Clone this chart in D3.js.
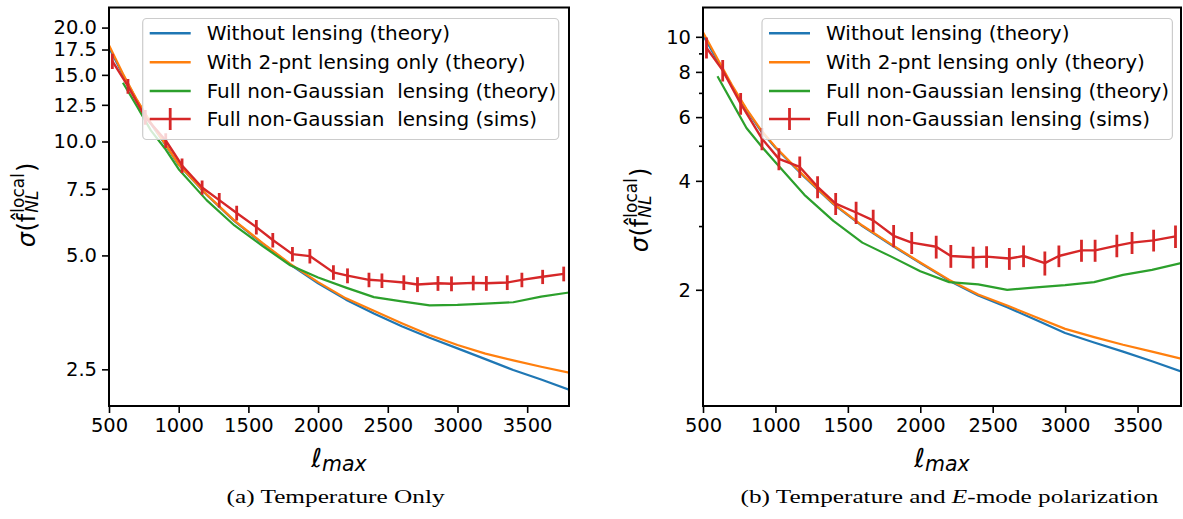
<!DOCTYPE html>
<html><head><meta charset="utf-8">
<script src="https://cdn.jsdelivr.net/npm/d3@7"></script>
<style>body{margin:0;background:#fff}svg{display:block}</style>
</head><body>
<svg id="chart" width="1183" height="519"></svg>
<script>
// ---------------- data ----------------
const lmaxTheory = [500,600,700,800,900,1000,1200,1400,1600,1800,2000,2200,2400,2600,2800,3000,3200,3400,3600,3800];
const lmaxSims = [524,636,760,907,1024,1168,1291,1416,1557,1675,1816,1941,2110,2211,2365,2458,2615,2713,2860,2957,3113,3207,3357,3462,3611,3762];

// (a) Temperature only
const tNoLens  = [17.7,15.0,12.85,11.15,9.85,8.68,7.23,6.16,5.38,4.73,4.22,3.82,3.51,3.25,3.03,2.84,2.66,2.49,2.35,2.21];
const tTwoPnt  = [17.96,15.1,12.9,11.2,9.88,8.7,7.25,6.18,5.40,4.75,4.25,3.85,3.57,3.31,3.08,2.90,2.75,2.64,2.54,2.45];
const tFullNG  = [null,14.3,12.4,10.7,9.6,8.45,7.0,6.0,5.3,4.71,4.37,4.11,3.88,3.78,3.69,3.70,3.73,3.76,3.89,3.99];
const tSims    = [16.3,14.0,11.6,10.06,8.64,7.56,7.0,6.47,5.94,5.49,5.04,4.98,4.51,4.42,4.31,4.29,4.24,4.19,4.22,4.21,4.23,4.22,4.24,4.31,4.39,4.47];
const tSimsErr = [0.75,0.62,0.52,0.45,0.38,0.33,0.31,0.29,0.26,0.24,0.22,0.22,0.20,0.20,0.19,0.19,0.19,0.19,0.19,0.19,0.19,0.19,0.19,0.19,0.19,0.20];

// (b) Temperature and E-mode polarization
const teNoLens  = [10.1,8.6,7.3,6.28,5.5,4.94,4.1,3.45,3.0,2.66,2.37,2.12,1.93,1.79,1.65,1.52,1.43,1.35,1.27,1.19];
const teTwoPnt  = [10.3,8.7,7.36,6.32,5.53,4.96,4.12,3.46,3.01,2.67,2.38,2.13,1.94,1.81,1.68,1.56,1.48,1.41,1.35,1.29];
const teFullNG  = [null,7.78,6.6,5.6,5.0,4.5,3.66,3.10,2.70,2.47,2.25,2.10,2.07,2.00,2.03,2.06,2.10,2.20,2.27,2.37];
const teSims    = [9.33,8.08,6.54,5.23,4.60,4.37,3.85,3.46,3.27,3.11,2.82,2.70,2.63,2.48,2.46,2.47,2.44,2.48,2.37,2.48,2.57,2.57,2.65,2.70,2.74,2.81];
const teSimsErr = [0.62,0.55,0.45,0.37,0.32,0.30,0.27,0.24,0.23,0.22,0.20,0.19,0.19,0.18,0.17,0.17,0.17,0.17,0.18,0.17,0.18,0.18,0.19,0.19,0.19,0.20];

const xTicks   = [500,1000,1500,2000,2500,3000,3500];
const yTicksA  = [2.5,5.0,7.5,10.0,12.5,15.0,17.5,20.0];
const yTicksB  = [2,4,6,8,10];
const yMinorB  = [3,5,7,9];
const legendA  = ["Without lensing (theory)","With 2-pnt lensing only (theory)","Full non-Gaussian  lensing (theory)","Full non-Gaussian  lensing (sims)"];
const legendB  = ["Without lensing (theory)","With 2-pnt lensing only (theory)","Full non-Gaussian lensing (theory)","Full non-Gaussian lensing (sims)"];
const colors   = ["#1f77b4","#ff7f0e","#2ca02c","#d62728"];

// ---------------- drawing ----------------
const svg = d3.select("#chart");
const SANS = "DejaVu Sans, sans-serif";

function measure(str, size, style, family){
  const t = svg.append("text").attr("font-family", family||SANS).attr("font-size", size)
    .attr("font-style", style||"normal").style("white-space","pre").text(str);
  const w = t.node().getComputedTextLength(); t.remove(); return w;
}

function panel(cfg){
  const x = d3.scaleLinear().domain([500,3800]).range([cfg.x0,cfg.x1]);
  const y = d3.scaleLog().domain(cfg.yDomain).range([cfg.y1,cfg.y0]);
  const g = svg.append("g");
  const clipId = "clip"+cfg.id;
  svg.append("clipPath").attr("id",clipId).append("rect")
    .attr("x",cfg.x0).attr("y",cfg.y0).attr("width",cfg.x1-cfg.x0).attr("height",cfg.y1-cfg.y0);
  const plot = g.append("g").attr("clip-path",`url(#${clipId})`);
  const line = d3.line().defined(d=>d[1]!=null).x(d=>x(d[0])).y(d=>y(d[1]));
  [cfg.noLens, cfg.twoPnt, cfg.fullNG].forEach((s,i)=>{
    plot.append("path").attr("d", line(lmaxTheory.map((l,j)=>[l,s[j]])))
      .attr("fill","none").attr("stroke",colors[i]).attr("stroke-width",2.2).attr("stroke-linejoin","round");
  });
  // errorbars
  plot.selectAll(".eb"+cfg.id).data(lmaxSims).enter().append("line")
    .attr("x1",d=>x(d)).attr("x2",d=>x(d))
    .attr("y1",(d,i)=>y(cfg.sims[i]-cfg.err[i])).attr("y2",(d,i)=>y(cfg.sims[i]+cfg.err[i]))
    .attr("stroke",colors[3]).attr("stroke-width",2.8);
  plot.append("path").attr("d", line(lmaxSims.map((l,j)=>[l,cfg.sims[j]])))
    .attr("fill","none").attr("stroke",colors[3]).attr("stroke-width",2.4).attr("stroke-linejoin","round");

  // axes
  const xAxis = d3.axisBottom(x).tickValues(xTicks).tickSize(7).tickPadding(5).tickFormat(d3.format("d"));
  const gx = g.append("g").attr("transform",`translate(0,${cfg.y1})`).call(xAxis);
  const yAxis = d3.axisLeft(y).tickValues(cfg.yTicks).tickSize(7).tickPadding(5).tickFormat(cfg.fmt);
  const gy = g.append("g").attr("transform",`translate(${cfg.x0},0)`).call(yAxis);
  if(cfg.yMinor){
    g.append("g").attr("transform",`translate(${cfg.x0},0)`)
      .call(d3.axisLeft(y).tickValues(cfg.yMinor).tickSize(4).tickFormat(""))
      .call(a=>a.select(".domain").remove());
  }
  [gx,gy].forEach(a=>{
    a.select(".domain").remove();
    a.selectAll(".tick text").attr("font-family",SANS).attr("font-size",19.5).attr("fill","#000");
  });
  g.selectAll(".tick line").attr("stroke","#000").attr("stroke-width",1.6);
  // spines
  g.append("rect").attr("x",cfg.x0).attr("y",cfg.y0).attr("width",cfg.x1-cfg.x0).attr("height",cfg.y1-cfg.y0)
    .attr("fill","none").attr("stroke","#000").attr("stroke-width",2);

  // legend
  const lg = g.append("g");
  lg.append("rect").attr("x",cfg.lx0).attr("y",18.5).attr("width",cfg.lx1-cfg.lx0).attr("height",121)
    .attr("rx",4).attr("fill","#fff").attr("fill-opacity",0.8).attr("stroke","#cccccc").attr("stroke-width",1.2);
  const rows = [33.3,62.3,91,119];
  cfg.legend.forEach((lab,i)=>{
    const hx0 = cfg.lx0+7, hx1 = hx0+41;
    lg.append("line").attr("x1",hx0).attr("x2",hx1).attr("y1",rows[i]).attr("y2",rows[i])
      .attr("stroke",colors[i]).attr("stroke-width",2.6);
    if(i==3){
      lg.append("line").attr("x1",(hx0+hx1)/2).attr("x2",(hx0+hx1)/2).attr("y1",rows[i]-11).attr("y2",rows[i]+11)
        .attr("stroke",colors[3]).attr("stroke-width",2.8);
    }
    lg.append("text").attr("x",hx1+16).attr("y",rows[i]+7).attr("font-family",SANS).attr("font-size",20)
      .style("white-space","pre").attr("fill","#000").text(lab);
  });

  // y label: sigma(f^hat_NL^local)
  const main=24, scr=17;
  const yl = g.append("g");
  let pos = 0;
  yl.append("text").attr("x",pos).attr("y",0).attr("font-family",SANS).attr("font-size",main).attr("font-style","italic").text("σ");
  pos += measure("σ",main,"italic") + 0.5;
  yl.append("text").attr("x",pos).attr("y",0).attr("font-family",SANS).attr("font-size",main).text("(");
  pos += measure("(",main,"normal");
  const wf = measure("f",main,"normal"), wh = measure("ˆ",main,"normal");
  yl.append("text").attr("x",pos).attr("y",0).attr("font-family",SANS).attr("font-size",main).text("f");
  yl.append("text").attr("x",pos+(wf-wh)/2+1.5).attr("y",-5.5).attr("font-family",SANS).attr("font-size",main).text("ˆ");
  pos += wf + 1;
  const wl = measure("local",scr,"normal"), wn = measure("NL",scr,"italic");
  yl.append("text").attr("x",pos).attr("y",-11).attr("font-family",SANS).attr("font-size",scr).text("local");
  yl.append("text").attr("x",pos).attr("y",3).attr("font-family",SANS).attr("font-size",scr).attr("font-style","italic").text("NL");
  pos += Math.max(wl,wn) + 1;
  yl.append("text").attr("x",pos).attr("y",0).attr("font-family",SANS).attr("font-size",main).text(")");
  pos += measure(")",main,"normal");
  yl.attr("transform",`translate(${cfg.ylx},${cfg.yly}) rotate(-90) translate(${-pos/2},0)`);

  // x label: ell_max
  const fe = 26, fm = 20.5;
  const wEll = measure("ℓ",fe,"italic"), wMax = measure("max",fm,"italic");
  const xl = g.append("g").attr("transform",`translate(${(cfg.x0+cfg.x1)/2-(wEll+wMax)/2},467)`);
  xl.append("text").attr("x",0).attr("y",0).attr("font-family",SANS).attr("font-size",fe).attr("font-style","italic").text("ℓ");
  xl.append("text").attr("x",wEll).attr("y",3.5).attr("font-family",SANS).attr("font-size",fm).attr("font-style","italic").text("max");

  // caption
  const cap = g.append("text").attr("x",cfg.capX).attr("y",503).attr("text-anchor","middle")
    .attr("font-family","Liberation Serif, serif").attr("font-size",18).attr("fill","#000");
  cfg.caption.forEach(c=>cap.append("tspan").attr("font-style",c.it?"italic":"normal").text(c.t));
  cap.attr("textLength",cfg.capW).attr("lengthAdjust","spacingAndGlyphs");
}

panel({id:"a", x0:109, x1:569, y0:7.5, y1:406, yDomain:[2.0,22.6], yTicks:yTicksA, fmt:d3.format(".1f"),
  noLens:tNoLens, twoPnt:tTwoPnt, fullNG:tFullNG, sims:tSims, err:tSimsErr,
  legend:legendA, lx0:142.7, lx1:558.7, ylx:35, yly:205,
  caption:[{t:"(a)  Temperature Only"}], capX:335.6, capW:218});
panel({id:"b", x0:703, x1:1181, y0:7.5, y1:406, yDomain:[0.955,12.05], yTicks:yTicksB, yMinor:yMinorB, fmt:d3.format("d"),
  noLens:teNoLens, twoPnt:teTwoPnt, fullNG:teFullNG, sims:teSims, err:teSimsErr,
  legend:legendB, lx0:762, lx1:1172.4, ylx:648, yly:210,
  caption:[{t:"(b)  Temperature and "},{t:"E",it:true},{t:"-mode polarization"}], capX:949.5, capW:418});
</script>
</body></html>
